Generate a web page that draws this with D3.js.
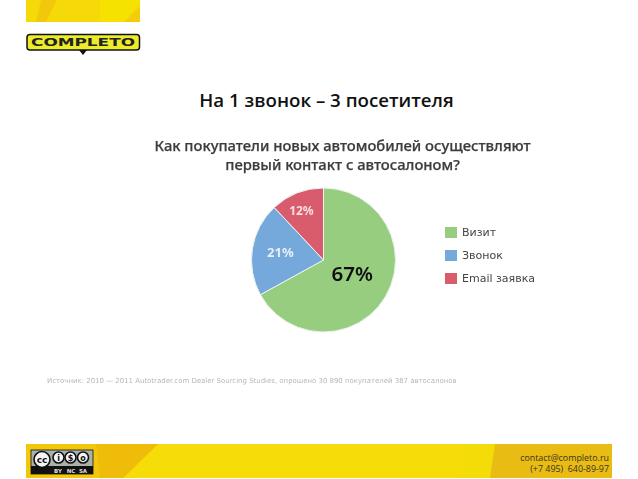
<!DOCTYPE html>
<html><head><meta charset="utf-8">
<style>html,body{margin:0;padding:0;background:#fff;overflow:hidden}svg{display:block}text{white-space:pre}</style>
<script src="https://cdn.jsdelivr.net/npm/d3@7"></script></head>
<body><svg id="c" width="638" height="479"></svg>
<script>
const categories = ["Визит","Звонок","Email заявка"];
const values = [67,21,12];
const colors = ["#97cd7f","#74a8db","#d95c6d"];
const labelColors = ["#111111","#e6eff8","#f6dfe2"];
const slideTitle = "На 1 звонок – 3 посетителя";
const chartTitle = ["Как покупатели новых автомобилей осуществляют","первый контакт с автосалоном?"];
const sourceNote = "Источник: 2010 — 2011 Autotrader.com Dealer Sourcing Studies, опрошено 30 890 покупателей 387 автосалонов";
const contact = ["contact@completo.ru","(+7 495)  640-89-97"];

const svg = d3.select("#c");
const defs = svg.append("defs");
defs.append("filter").attr("id","soft").attr("x","-5%").attr("y","-5%").attr("width","110%").attr("height","110%")
  .append("feGaussianBlur").attr("stdDeviation",0.45);
defs.append("filter").attr("id","softer").attr("x","-5%").attr("y","-50%").attr("width","110%").attr("height","200%")
  .append("feGaussianBlur").attr("stdDeviation",0.6);

// top band with facets
const topBand = svg.append("g");
topBand.append("rect").attr("x",26).attr("y",0).attr("width",114).attr("height",22).attr("fill","#f6d908");
topBand.append("path").attr("d","M41 0 L57 0 L46 22 L36 22 Z").attr("fill","#f1c80c");
topBand.append("path").attr("d","M100 0 L140 0 L140 4 L124 22 L100 22 Z").attr("fill","#f5e200");
topBand.append("path").attr("d","M140 7 L140 22 L124 22 Z").attr("fill","#f3cc0c");

// footer band with facets
const foot = svg.append("g");
foot.append("rect").attr("x",26).attr("y",444).attr("width",586).attr("height",34).attr("fill","#f6dc08");
foot.append("path").attr("d","M26 444 L158 444 L123 478 L26 478 Z").attr("fill","#f2c80c");
foot.append("path").attr("d","M96 444 L158 444 L123 478 L100 478 Z").attr("fill","#efbc0a");
foot.append("path").attr("d","M465 444 L498 444 L490 478 L462 478 Z").attr("fill","#f4dc08");
foot.append("path").attr("d","M495 444 L612 444 L612 478 L490 478 Z").attr("fill","#e9bc14");

// logo
const logo = svg.append("g");
logo.append("path").attr("d","M79 50 l4 5 l4 -5 z").attr("fill","#111");
logo.append("rect").attr("x",27).attr("y",34.5).attr("width",112.5).attr("height",15.5).attr("rx",3).attr("fill","#ecec2a").attr("stroke","#111").attr("stroke-width",1.5);
logo.append("text").attr("x",83).attr("y",46).attr("text-anchor","middle").attr("textLength",104).attr("lengthAdjust","spacingAndGlyphs")
  .attr("font-family","DejaVu Sans").attr("font-weight",700).attr("font-size",11).attr("fill","#222").text("COMPLETO");

// cc badge
const cc = svg.append("g");
cc.append("rect").attr("x",31).attr("y",450).attr("width",62).attr("height",24).attr("fill","#aab0aa").attr("stroke","#111").attr("stroke-width",.8);
cc.append("rect").attr("x",31).attr("y",466).attr("width",62).attr("height",8).attr("fill","#111");
[[42,459.5,8,"cc"],[58.5,457.5,5.5,"i"],[70.5,457.5,5.5,"$"],[83,457.5,5.5,"o"]].forEach(d=>{
  cc.append("circle").attr("cx",d[0]).attr("cy",d[1]).attr("r",d[2]).attr("fill","#f4f4f4").attr("stroke","#111").attr("stroke-width",1.6);
  cc.append("text").attr("x",d[0]).attr("y",d[1]+3).attr("text-anchor","middle").attr("font-family","DejaVu Sans").attr("font-weight",700).attr("font-size",d[3]==="cc"?9:8).attr("fill","#111").text(d[3]);
});
[[58,"BY"],[71,"NC"],[83,"SA"]].forEach(d=>cc.append("text").attr("x",d[0]).attr("y",473).attr("text-anchor","middle").attr("font-family","DejaVu Sans").attr("font-weight",700).attr("font-size",5.5).attr("fill","#ddd").text(d[1]));

// slide title
svg.append("text").attr("x",326.5).attr("y",107).attr("text-anchor","middle").attr("font-family","Open Sans").attr("font-weight",600).attr("font-size",18.7).attr("fill","#111").text(slideTitle);

// chart image area
const art = svg.append("g").attr("filter","url(#soft)");
chartTitle.forEach((t,i)=>art.append("text").attr("x",342.5).attr("y",151+i*19).attr("text-anchor","middle").attr("font-family","Noto Sans").attr("font-weight",500).attr("font-size",14.8).attr("fill","#3c3c3c").attr("stroke","#3c3c3c").attr("stroke-width",0.25).text(t));

const cx=323.5, cy=260, R=72;
const pie = d3.pie().value(d=>d).sort(null);
const arc = d3.arc().innerRadius(0).outerRadius(R);
const arcs = pie(values);
const g = art.append("g").attr("transform",`translate(${cx},${cy})`);
g.selectAll("path").data(arcs).join("path").attr("d",arc).attr("fill",(d,i)=>colors[i]).attr("stroke","#eef3ee").attr("stroke-width",1);
const labelRadius = [0.56,0.62,0.72];
const labelShift = [[-6,-8],[1,-1],[-3,-1]];
const fs = [20.5,13,12];
arcs.forEach((a,i)=>{
  const [x,y] = d3.arc().innerRadius(R*labelRadius[i]).outerRadius(R*labelRadius[i]).centroid(a);
  g.append("text").attr("x",x+labelShift[i][0]).attr("y",y+labelShift[i][1]).attr("text-anchor","middle").attr("dominant-baseline","central")
   .attr("font-family","Noto Sans").attr("font-weight",i===0?600:700).attr("font-size",fs[i]).attr("fill",labelColors[i]).text(values[i]+"%");
});

const ly = d3.scalePoint().domain(categories).range([232.5,278.5]);
categories.forEach((c,i)=>{
  art.append("rect").attr("x",445).attr("y",ly(c)-5.5).attr("width",12).attr("height",11).attr("fill",colors[i]);
  art.append("text").attr("x",462).attr("y",ly(c)+3).attr("font-family","DejaVu Sans").attr("font-size",11).attr("fill","#444").text(c);
});

// source
svg.append("text").attr("x",47).attr("y",383).attr("filter","url(#softer)").attr("font-family","DejaVu Sans").attr("font-size",6.96).attr("fill","#b4b8ba").text(sourceNote);

// contact
contact.forEach((t,i)=>svg.append("text").attr("x",609).attr("y",460.5+i*11.5).attr("text-anchor","end").attr("font-family","Open Sans").attr("font-size",8.9).attr("fill","#3a3320").text(t));
</script></body></html>
